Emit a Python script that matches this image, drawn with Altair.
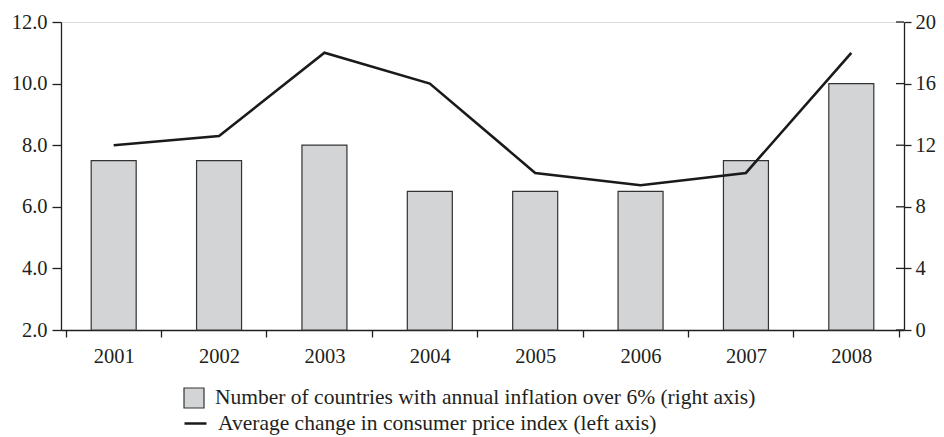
import altair as alt
import pandas as pd

years = ["2001", "2002", "2003", "2004", "2005", "2006", "2007", "2008"]
countries_over_6 = [11, 11, 12, 9, 9, 9, 11, 16]
avg_cpi_change = [8.0, 8.3, 11.0, 10.0, 7.1, 6.7, 7.1, 11.0]
left_ticks = [2, 4, 6, 8, 10, 12]
right_ticks = [0, 4, 8, 12, 16, 20]

bar_label = "Number of countries with annual inflation over 6% (right axis)"
line_label = "Average change in consumer price index (left axis)"

df = pd.DataFrame({
    "year": years,
    "countries": countries_over_6,
    "cpi": avg_cpi_change,
    "bar_series": [bar_label] * len(years),
    "line_series": [line_label] * len(years),
})
tick_df = pd.DataFrame({"v": right_ticks})

FONT = "Liberation Serif"
INK = "#231f20"
W, H = 843, 308

x_enc = alt.X(
    "year:N",
    sort=years,
    axis=alt.Axis(
        title=None, labelAngle=0, tickBand="extent", tickSize=7, labelPadding=9,
        labelFont=FONT, labelFontSize=20.5, labelColor=INK,
        domainColor=INK, tickColor=INK, domainWidth=1.3, tickWidth=1.3,
    ),
)

right_scale = alt.Scale(domain=[0, 20], nice=False, zero=True)
right_axis = alt.Axis(
    orient="right", values=right_ticks, title=None, grid=False,
    tickSize=7, labelPadding=4, labelFont=FONT, labelFontSize=20.5,
    labelColor=INK, domainColor=INK, tickColor=INK,
    domainWidth=1.3, tickWidth=1.3,
)

bars = alt.Chart(df).mark_bar(
    width=45, stroke="#333333", strokeWidth=1.2
).encode(
    x=x_enc,
    y=alt.Y("countries:Q", scale=right_scale, axis=right_axis),
    fill=alt.Fill(
        "bar_series:N",
        scale=alt.Scale(domain=[bar_label], range=["#d3d4d6"]),
        legend=alt.Legend(
            orient="none", legendX=122, legendY=365, title=None,
            symbolType="square", symbolSize=400, symbolStrokeColor="#333333",
            symbolStrokeWidth=1.2, symbolFillColor="#d3d4d6", symbolOpacity=1,
            labelFont=FONT, labelFontSize=21.5, labelColor=INK, labelLimit=0,
            labelOffset=10, padding=0,
        ),
    ),
)

inner_ticks = alt.Chart(tick_df).mark_rule(color=INK, strokeWidth=1.3).encode(
    y=alt.Y("v:Q", scale=right_scale, axis=right_axis),
    x=alt.value(W - 8),
    x2=alt.value(W),
)

right_layer = alt.layer(bars, inner_ticks)

line = alt.Chart(df).mark_line(strokeWidth=2.6, color="#1a1a1a").encode(
    x=x_enc,
    y=alt.Y(
        "cpi:Q",
        scale=alt.Scale(domain=[2, 12], nice=False, zero=False),
        axis=alt.Axis(
            orient="left", values=left_ticks, format=".1f", title=None, grid=False,
            tickSize=9, labelPadding=5, labelFont=FONT, labelFontSize=20.5,
            labelColor=INK, domainColor=INK, tickColor=INK,
            domainWidth=1.3, tickWidth=1.3,
        ),
    ),
    stroke=alt.Stroke(
        "line_series:N",
        scale=alt.Scale(domain=[line_label], range=["#1a1a1a"]),
        legend=alt.Legend(
            orient="none", legendX=122, legendY=389, title=None,
            symbolType="stroke", symbolSize=484, symbolStrokeWidth=2.5,
            labelFont=FONT, labelFontSize=21.5, labelColor=INK, labelLimit=0,
            labelOffset=10, padding=0,
        ),
    ),
)

chart = alt.layer(right_layer, line).resolve_scale(
    y="independent", fill="independent", stroke="independent"
).properties(
    width=W, height=H,
    padding={"left": 53, "top": 14, "right": 32, "bottom": 106},
    autosize=alt.AutoSizeParams(type="none"),
).configure_view(stroke="transparent", strokeWidth=0).configure_axis(grid=False).configure(background="white")

chart.save("out.html", embed_options={"renderer": "svg", "actions": False})
